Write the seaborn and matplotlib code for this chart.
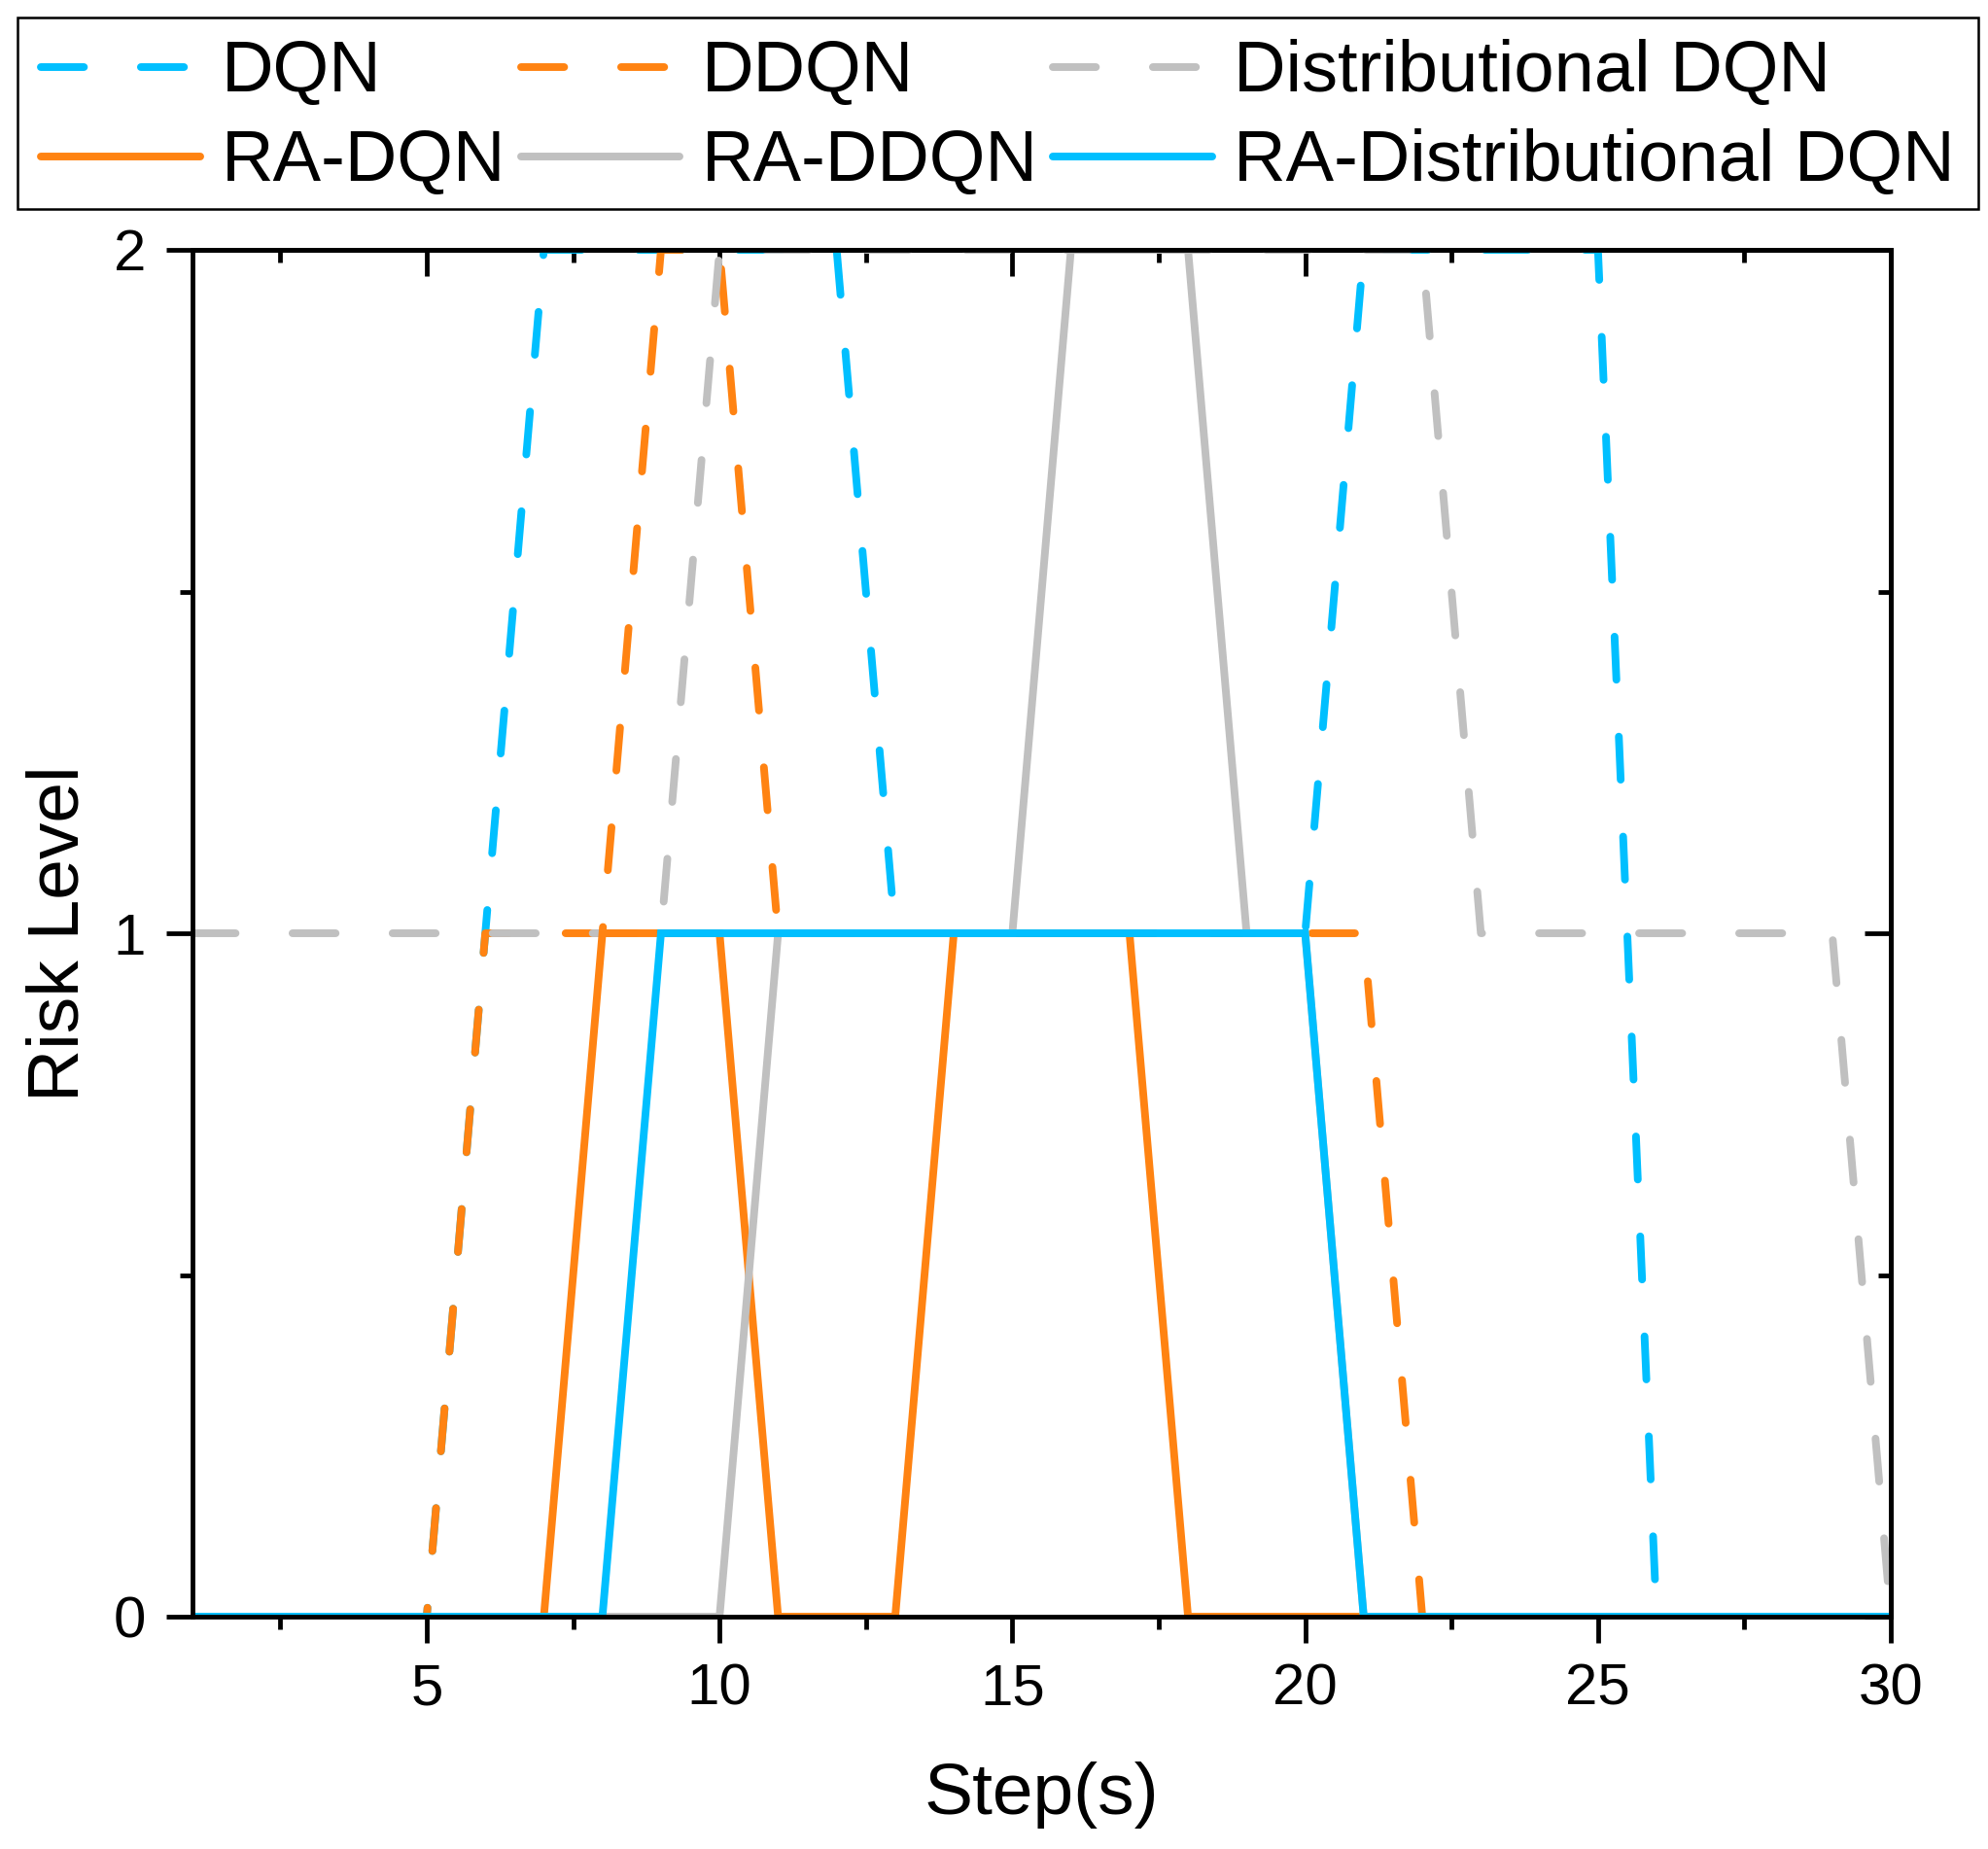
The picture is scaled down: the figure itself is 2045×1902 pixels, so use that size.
import numpy as np
import pandas as pd
import matplotlib
matplotlib.use("Agg")
import matplotlib.pyplot as plt
import matplotlib.ticker as mticker
from matplotlib.lines import Line2D
from matplotlib.patches import Rectangle
import seaborn as sns

# ---------------- data ----------------
steps = list(range(1, 31))
dqn        = [0,0,0,0,0,1,2,2,2,2,2,2,1,1,1,1,1,1,1,1,2,2,2,2,2,0,0,0,0,0]
ddqn       = [0,0,0,0,0,1,1,1,2,2,1,1,1,1,1,1,1,1,1,1,1,0,0,0,0,0,0,0,0,0]
dist_dqn   = [1,1,1,1,1,1,1,1,1,2,2,2,2,2,2,2,2,2,2,2,2,2,1,1,1,1,1,1,1,0]
ra_dqn     = [0,0,0,0,0,0,0,1,1,1,0,0,0,1,1,1,1,0,0,0,0,0,0,0,0,0,0,0,0,0]
ra_ddqn    = [0,0,0,0,0,0,0,0,0,0,1,1,1,1,1,2,2,2,1,1,0,0,0,0,0,0,0,0,0,0]
ra_dist    = [0,0,0,0,0,0,0,0,1,1,1,1,1,1,1,1,1,1,1,1,0,0,0,0,0,0,0,0,0,0]

series_names = ["DQN", "DDQN", "Distributional DQN",
                "RA-DQN", "RA-DDQN", "RA-Distributional DQN"]
series_vals = [dqn, ddqn, dist_dqn, ra_dqn, ra_ddqn, ra_dist]

x_ticks = [5, 10, 15, 20, 25, 30]
y_ticks = [0, 1, 2]

# ---------------- style ----------------
BLUE = "#00BFFF"
ORANGE = "#FF8312"
GRAY = "#C0C0C0"
colors = [BLUE, ORANGE, GRAY, ORANGE, GRAY, BLUE]
dashed = [True, True, True, False, False, False]
LW = 1.9
DASH = (0, (5.6, 7.4))

sns.set_style("ticks")
plt.rcParams["font.family"] = ["Liberation Sans", "DejaVu Sans"]
plt.rcParams["axes.linewidth"] = 1.15
plt.rcParams["text.color"] = "black"
plt.rcParams["axes.labelcolor"] = "black"
plt.rcParams["xtick.color"] = "black"
plt.rcParams["ytick.color"] = "black"
plt.rcParams["axes.edgecolor"] = "black"

W, H = 2045, 1902
fig = plt.figure(figsize=(W / 300, H / 300), dpi=300)
ax = fig.add_axes([198 / W, 1 - 1663 / H, (1945 - 198) / W, (1663 - 257) / H])

for name, vals, c, d in zip(series_names, series_vals, colors, dashed):
    df = pd.DataFrame({"Step": steps, "Risk": vals})
    kw = dict(linestyle=DASH, dash_capstyle="round") if d else dict(solid_capstyle="butt", solid_joinstyle="miter")
    sns.lineplot(data=df, x="Step", y="Risk", ax=ax, color=c, linewidth=LW,
                 label=name, legend=False, **kw)

ax.set_xlim(1, 30)
ax.set_ylim(0, 2)
ax.xaxis.set_major_locator(mticker.FixedLocator(x_ticks))
ax.xaxis.set_minor_locator(mticker.MultipleLocator(2.5))
ax.yaxis.set_major_locator(mticker.FixedLocator(y_ticks))
ax.yaxis.set_minor_locator(mticker.MultipleLocator(0.5))
ax.tick_params(which="major", direction="out", length=6.5, width=1.15,
               labelsize=14.4, pad=5, colors="black")
ax.tick_params(which="minor", direction="out", length=3.2, width=1.15)
for s in ax.spines.values():
    s.set_visible(True)
    s.set_linewidth(1.15)
    s.set_color("black")

ax.set_xlabel("Step(s)", fontsize=18, labelpad=11, color="black")
ax.set_ylabel("Risk Level", fontsize=18, labelpad=5, color="black")

# inward ticks on top and right
top = ax.secondary_xaxis("top")
top.xaxis.set_major_locator(mticker.FixedLocator(x_ticks))
top.xaxis.set_minor_locator(mticker.MultipleLocator(2.5))
top.tick_params(which="major", direction="in", length=6.5, width=1.15, labeltop=False)
top.tick_params(which="minor", direction="in", length=3.2, width=1.15)
top.spines["top"].set_linewidth(1.15)
right = ax.secondary_yaxis("right")
right.yaxis.set_major_locator(mticker.FixedLocator(y_ticks))
right.yaxis.set_minor_locator(mticker.MultipleLocator(0.5))
right.tick_params(which="major", direction="in", length=6.5, width=1.15, labelright=False)
right.tick_params(which="minor", direction="in", length=3.2, width=1.15)
right.spines["right"].set_linewidth(1.15)

# legend (3 columns, row-wise order)
handles = {}
for name, c, d in zip(series_names, colors, dashed):
    if d:
        handles[name] = Line2D([], [], color=c, lw=LW, linestyle=DASH, dash_capstyle="round")
    else:
        handles[name] = Line2D([], [], color=c, lw=LW, solid_capstyle="round")
order = ["DQN", "RA-DQN", "DDQN", "RA-DDQN", "Distributional DQN", "RA-Distributional DQN"]
ytop = 1 - 16 / H
leg = fig.legend([handles[n] for n in order], order, ncol=3, loc="upper left",
                 bbox_to_anchor=(18 / W, ytop - 0.01, 2017 / W, 0.01),
                 mode="expand", borderaxespad=0, fontsize=17.8, frameon=False,
                 handlelength=2.2, handletextpad=0.3, columnspacing=0.3,
                 labelspacing=0.31, borderpad=0.33)
for t in leg.get_texts():
    t.set_color("black")

# legend frame
fig.patches.append(Rectangle((18 / W, 1 - 215 / H), 2017 / W, 197 / H,
                             transform=fig.transFigure, fill=False,
                             edgecolor="black", linewidth=0.6, zorder=5))

fig.savefig("out.png", dpi=300)
